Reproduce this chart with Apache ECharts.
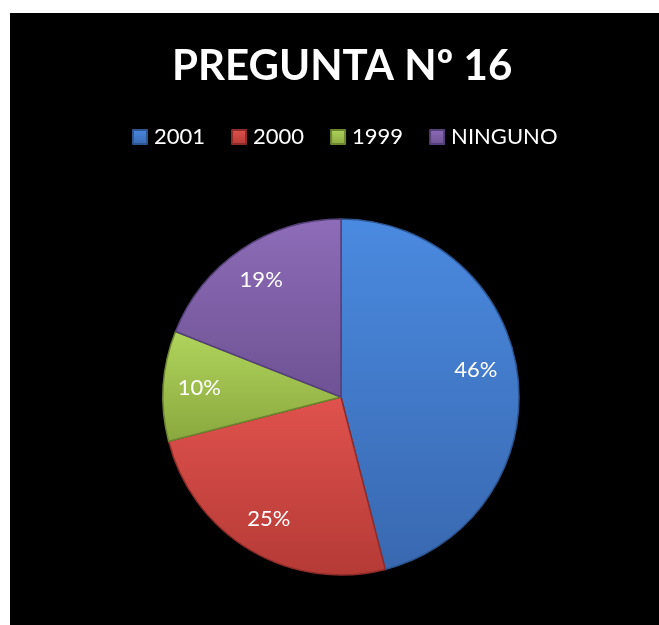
<!DOCTYPE html>
<html>
<head>
<meta charset="utf-8">
<script src="https://cdn.jsdelivr.net/npm/echarts@6/dist/echarts.min.js"></script>
<style>
  html, body { margin: 0; padding: 0; background: #fff; }
  #chartpie { position: absolute; left: 10px; top: 13px; width: 649px; height: 612px; background: #000; }
</style>
</head>
<body>
<div id="chartpie"></div>
<script>
var categories = ['2001', '2000', '1999', 'NINGUNO'];
var values = [46, 25, 10, 19];

var colorsTop = ['#4a8ae0', '#e0524d', '#b0d45c', '#8e6cb8'];
var colorsBottom = ['#3968b0', '#b53a36', '#8aa83e', '#6e5294'];
var colorsEdge = ['#2d5590', '#8e2c29', '#6c8530', '#55407a'];

function grad(i) {
  return new echarts.graphic.LinearGradient(0, 0, 0, 1, [
    { offset: 0, color: colorsTop[i] },
    { offset: 1, color: colorsBottom[i] }
  ]);
}

var pieData = categories.map(function (c, i) {
  return {
    name: c,
    value: values[i],
    itemStyle: { color: grad(i), borderColor: colorsEdge[i], borderWidth: 1.5 }
  };
});

// etiquetas en un anillo transparente encima del pie
var labelData = categories.map(function (c, i) {
  var d = { name: c, value: values[i] };
  if (i === 0) d.label = { offset: [-6, -9] };
  return d;
});

var piechart = echarts.init(document.getElementById('chartpie'));

piechart.setOption({
  backgroundColor: '#000',
  animation: false,
  title: {
    text: 'PREGUNTA Nº 16',
    left: 157,
    top: 27,
    textStyle: {
      color: '#fff',
      fontFamily: 'Lato',
      fontWeight: 'bold',
      fontSize: 42
    }
  },
  legend: {
    data: categories,
    top: 108,
    left: 117,
    icon: 'rect',
    itemWidth: 14,
    itemHeight: 14,
    itemGap: 26,
    textStyle: { color: '#fff', fontFamily: 'Lato', fontSize: 22, padding: [0, 0, 0, 2] }
  },
  color: colorsTop,
  series: [{
    type: 'pie',
    center: [331, 384],
    radius: [0, 178],
    startAngle: 90,
    clockwise: true,
    label: { show: false },
    labelLine: { show: false },
    emphasis: { disabled: true },
    data: pieData
  }, {
    type: 'pie',
    center: [331, 384],
    radius: [100, 178],
    startAngle: 90,
    clockwise: true,
    silent: true,
    itemStyle: { color: 'rgba(0,0,0,0)', borderWidth: 0 },
    label: {
      show: true,
      position: 'inside',
      formatter: '{c}%',
      color: '#fff',
      fontFamily: 'Lato',
      fontSize: 22
    },
    labelLine: { show: false },
    emphasis: { disabled: true },
    legendHoverLink: false,
    data: labelData
  }]
});
</script>
</body>
</html>
